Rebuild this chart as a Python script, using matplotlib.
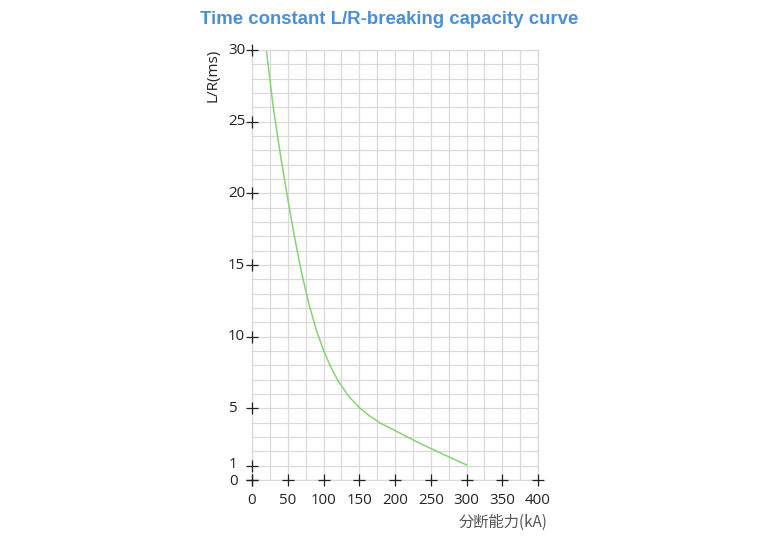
import matplotlib.pyplot as plt

# curve values
breaking_ka = [20, 30, 40, 50, 60, 70, 80, 90, 100, 110, 120, 135, 150, 165, 180, 200,
               225, 250, 275, 300]
lr_ms = [30, 25.9, 22.6, 19.6, 16.8, 14.3, 12.2, 10.45, 9.05, 7.9, 6.95, 5.85, 5.05, 4.45,
         3.95, 3.45, 2.8, 2.2, 1.62, 1.05]

x_ticks = [0, 50, 100, 150, 200, 250, 300, 350, 400]
y_ticks = [0, 1, 5, 10, 15, 20, 25, 30]

plt.rcParams['font.family'] = ['Open Sans', 'DejaVu Sans']

fig = plt.figure(figsize=(7.6, 5.54), dpi=100)
ax = fig.add_axes([0.3316, 0.1336, 0.3763, 0.7761])

ax.set_xlim(0, 400)
ax.set_ylim(0, 30)
ax.set_xticks(range(0, 401, 25))
ax.set_yticks(range(0, 31, 1))
ax.grid(True, color='#d9d9d9', linewidth=0.9)
ax.tick_params(length=0, labelbottom=False, labelleft=False)
for s in ax.spines.values():
    s.set_color('#d9d9d9')
    s.set_linewidth(0.9)

ax.plot(breaking_ka, lr_ms, color='#86d474', linewidth=1.1)

# cross-shaped tick marks
ax.plot([0] * len(y_ticks), y_ticks, linestyle='none', marker='+', markersize=9,
        markeredgewidth=0.9, color='#222222', clip_on=False, zorder=5)
ax.plot(x_ticks, [0] * len(x_ticks), linestyle='none', marker='+', markersize=9,
        markeredgewidth=0.9, color='#222222', clip_on=False, zorder=5)

for yt in y_ticks:
    dx = -5 if yt >= 10 else -10.5
    dy = {0: -0.8, 1: 0.8}.get(yt, 0)
    ax.annotate(str(yt), (0, yt), xytext=(dx, dy), textcoords='offset points',
                ha='right', va='center', fontsize=10.8, color='#222222',
                annotation_clip=False)
for xt in x_ticks:
    ax.annotate(str(xt), (xt, 0), xytext=(0, -15), textcoords='offset points',
                ha='center', va='center', fontsize=10.8, color='#222222',
                annotation_clip=False)

fig.text(213 / 760, 1 - 75 / 554, 'L/R(ms)', rotation=90, ha='center', va='center',
         fontsize=11, color='#222222')
fig.text(548 / 760, 1 - 522 / 554, '分断能力(kA)', ha='right', va='center', fontsize=11,
         color='#555555', family=['Noto Sans CJK JP', 'DejaVu Sans'])

fig.text(389 / 760, 1 - 19 / 554, 'Time constant L/R-breaking capacity curve',
         ha='center', va='center', fontsize=13.4, fontweight='bold', color='#4a8fd8',
         family=['Liberation Sans', 'DejaVu Sans'])

fig.savefig('out.png', dpi=100)
